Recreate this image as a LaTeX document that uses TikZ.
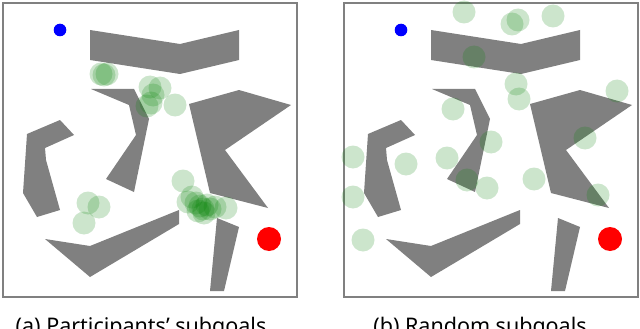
\documentclass[tikz,border=0pt]{standalone}
\usepackage{fontspec}
\setmainfont{Noto Sans}
\definecolor{wallgray}{RGB}{128,128,128}
\definecolor{startblue}{RGB}{0,0,255}
\definecolor{goalred}{RGB}{255,0,0}
\definecolor{subgreen}{RGB}{0,128,0}

\begin{document}
\begin{tikzpicture}[x=1pt, y=-1pt,
    wall/.style={fill=wallgray},
    subgoal/.style={fill=subgreen, fill opacity=0.2},
    mapframe/.style={draw=wallgray, line width=2pt, fill=white},
    caption/.style={font=\fontsize{21.5}{26}\selectfont, anchor=base}]
    \useasboundingbox[fill=white] (0,0) rectangle (640,329);

    % same maze in both panels
    \foreach \dx in {0,341} {
        \begin{scope}[xshift=\dx]
            \draw[mapframe] (3,3) rectangle (297,297);
            \fill[wall] (90,30) -- (180,44) -- (239,30) -- (239,60) -- (180,74) -- (90,60) -- cycle;
            \fill[wall] (91,89) -- (134,89) -- (149,119) -- (134,192) -- (106,179) -- (136,135) -- (129,105) -- cycle;
            \fill[wall] (27,134) -- (60,120) -- (74,135) -- (45,148) -- (46,160) -- (60,210) -- (37,217) -- (23,193) -- cycle;
            \fill[wall] (189,104) -- (239,90) -- (291,105) -- (225,150) -- (268,208) -- (210,193) -- cycle;
            \fill[wall] (45,239) -- (90,246) -- (179,210) -- (179,224) -- (90,277) -- cycle;
            \fill[wall] (217,218) -- (239,227) -- (224,291) -- (210,291) -- cycle;
            \fill[startblue] (60,30) circle[radius=6.3pt];
            \fill[goalred] (269,239) circle[radius=12pt];
        \end{scope}
    }

    % participants' subgoals
    \foreach \p in {(101,74),(104,75),(107,74),
                    (150,87),(160,88),(153,95),(151,103),(147,106),(175,105),
                    (88,203),(99,207),(84,223),
                    (183,181),(188,202),(192,197),(196,203),(200,206),(203,209),
                    (207,205),(210,209),(204,213),(215,207),(226,208),(198,211)}
        \fill[subgoal] \p circle[radius=11.5pt];

    % random subgoals
    \begin{scope}[xshift=341]
        \foreach \p in {(123,12),(171,24),(177,20),(212,16),(133,57),
                        (175,84),(178,99),(276,91),(112,109),(150,142),
                        (244,138),(12,157),(65,164),(106,158),(12,197),
                        (126,180),(146,188),(193,179),(257,195),(22,240)}
            \fill[subgoal] \p circle[radius=11.5pt];
    \end{scope}

    \node[caption] (capa) at (141,333) {(a) Participants’ subgoals};
    \node[caption] (capb) at (480,333) {(b) Random subgoals};
\end{tikzpicture}
\end{document}
